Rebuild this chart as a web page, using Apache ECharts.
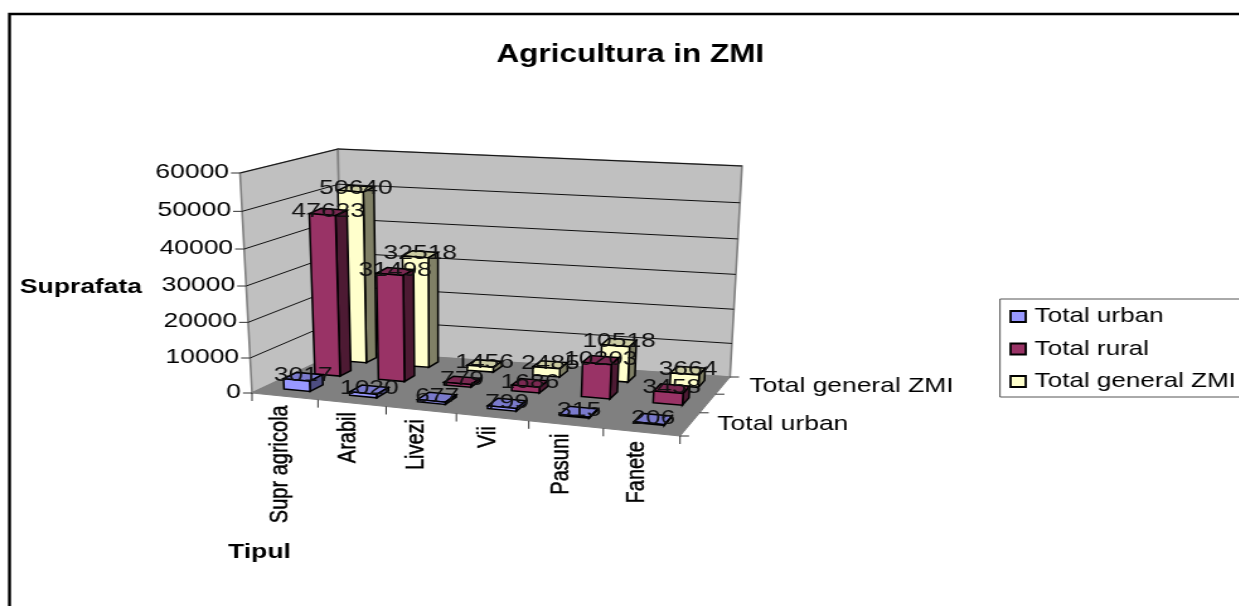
<!DOCTYPE html>
<html><head><meta charset="utf-8">
<style>
html,body{margin:0;padding:0;background:#fff;overflow:hidden;width:1239px;height:606px}
#main{position:absolute;left:0;top:0;transform-origin:0 0}
</style>
<script src="https://cdn.jsdelivr.net/npm/echarts@6/dist/echarts.min.js"></script>
</head><body><div id="main"></div>
<script>
const categories = ['Supr agricola','Arabil','Livezi','Vii','Pasuni','Fanete'];
const totalUrban = [3017,1020,677,799,315,206];
const totalRural = [47623,31498,779,1686,10203,3458];
const totalGeneral = [50640,32518,1456,2485,10518,3664];
const valueTicks = [0,10000,20000,30000,40000,50000,60000];
const seriesNames = ['Total urban','Total rural','Total general ZMI'];
const depthLabels = ['Total urban','','Total general ZMI'];

// The reference is a horizontally stretched picture: the whole canvas is stretched the same way.
const SX = 1.26, W = 1239, H = 606;
const FONT = '"Liberation Sans", Arial, sans-serif';
const el = document.getElementById('main');
el.style.width = Math.round(W / SX) + 'px';
el.style.height = H + 'px';
el.style.transform = 'scaleX(' + SX + ')';

// projection corners, in page pixels: [front-left, front-right, back-right, back-left]
const floorQuad = [[252,393],[680,436],[730,377],[342,351]];
const topQuad = [[240,173],[695,207],[742,166],[338,149]];
const BAR_HEIGHT = 202;
function quadMap(q){
  return (u,v)=>{
    const uu=u-0.09*u*(1-u), vv=Math.pow(v,0.85);
    const fx=q[0][0]+(q[1][0]-q[0][0])*uu, fy=q[0][1]+(q[1][1]-q[0][1])*uu;
    const bx=q[3][0]+(q[2][0]-q[3][0])*uu, by=q[3][1]+(q[2][1]-q[3][1])*uu;
    return [fx+(bx-fx)*vv, fy+(by-fy)*vv];
  };
}
const mapFloor = quadMap(floorQuad), mapTop = quadMap(topQuad);
// walls: u,v on the floor (0..1), t = share of the value axis (0..1); result in canvas pixels
function P(u,v,t){
  const tt=t-0.055*t*(1-t);
  const a=mapFloor(u,v), b=mapTop(u,v);
  return [(a[0]+(b[0]-a[0])*tt)/SX, a[1]+(b[1]-a[1])*tt];
}
// bars: same floor, same lean, constant height scale
function B(u,v,t){
  const a=mapFloor(u,v), b=mapTop(u,v);
  return [(a[0]+(b[0]-a[0])*t)/SX, a[1]-BAR_HEIGHT*t];
}

const nCat = categories.length, nDepth = seriesNames.length;
function axisShare(params, api, catPos, value){
  const cs = params.coordSys;
  const pt = api.coord([catPos, value]);
  return {u:(pt[0]-cs.x)/cs.width, t:(cs.y+cs.height-pt[1])/cs.height};
}
const faces = [
  {front:'#9999FF',side:'#4D4D80',top:'#7A7ACC'},
  {front:'#993366',side:'#4D1A33',top:'#7A2952'},
  {front:'#FFFFCC',side:'#808066',top:'#CCCCA3'}
];
const LW = 1.5;
function poly(points, fill, stroke, lw){
  return {type:'polygon',shape:{points},style:{fill,stroke:stroke||'#000',lineWidth:lw==null?LW:lw}};
}
function line(a,b,stroke,lw){
  return {type:'line',shape:{x1:a[0],y1:a[1],x2:b[0],y2:b[1]},style:{stroke:stroke||'#000',lineWidth:lw||1}};
}
function txt(text,x,y,align,extra,styleExtra){
  return Object.assign({type:'text',x:x,y:y,style:Object.assign({text,fontFamily:FONT,fontSize:21,fill:'#000',align,verticalAlign:'middle'},styleExtra||{})},extra||{});
}
function barRender(d){
  return function(params, api){
    const {u,t} = axisShare(params, api, api.value(0), api.value(1));
    const half = 0.2/nCat;
    const u0=u-half,u1=u+half,v0=(d+.3)/nDepth,v1=(d+.7)/nDepth;
    const f=faces[d];
    return {type:'group',children:[
      poly([B(u0,v0,t),B(u1,v0,t),B(u1,v1,t),B(u0,v1,t)],f.top),
      poly([B(u1,v0,0),B(u1,v1,0),B(u1,v1,t),B(u1,v0,t)],f.side),
      poly([B(u0,v0,0),B(u1,v0,0),B(u1,v0,t),B(u0,v0,t)],f.front)
    ]};
  };
}
function labelRender(params, api){
  const {u,t} = axisShare(params, api, api.value(0), api.value(1));
  const d = api.value(2);
  const p = B(u,(d+.5)/nDepth,t);
  return txt(String(api.value(1)),p[0],p[1]-1,'center',null,{fill:'#111'});
}
function frameRender(params, api){
  const ch=[];
  const GR='#808080';
  ch.push(poly([P(0,0,0),P(0,0,1),P(0,1,1),P(0,1,0)],'#C0C0C0',GR,1.6));
  ch.push(poly([P(0,1,0),P(0,1,1),P(1,1,1),P(1,1,0)],'#C0C0C0',GR,1.6));
  ch.push(poly([P(0,0,0),P(1,0,0),P(1,1,0),P(0,1,0)],'#808080',GR,1));
  valueTicks.forEach(val=>{
    const t=axisShare(params,api,0,val).t;
    const a=P(0,0,t),b=P(0,1,t),c=P(1,1,t);
    if(val>0){ch.push(line(a,b,'#111'));ch.push(line(b,c,'#111'));}
    ch.push(line(a,[a[0]-9/SX,a[1]],'#333'));
    ch.push(txt(String(val),a[0]-11/SX,a[1]-1,'right'));
  });
  for(let i=0;i<=nCat;i++){
    const a=P(i/nCat,0,0);
    ch.push(line(a,[a[0],a[1]+8],'#333'));
  }
  for(let j=0;j<=nDepth;j++){
    const a=P(1,j/nDepth,0);
    ch.push(line(a,[a[0]+9/SX,a[1]],'#333'));
  }
  categories.forEach((name,i)=>{
    const a=P(axisShare(params,api,i,0).u,0,0);
    ch.push(txt(name,a[0]-4/SX,a[1]+9,'right',{rotation:Math.PI/2},{fontSize:20,stroke:'#000',lineWidth:.4}));
  });
  depthLabels.forEach((name,j)=>{
    if(!name)return;
    const a=P(1,(j+.5)/nDepth,0);
    ch.push(txt(name,a[0]+26.5/SX,a[1]+1,'left'));
  });
  return {type:'group',children:ch};
}
const rows = a => a.map((v,i)=>[i,v]);
const rowValues = [totalUrban,totalRural,totalGeneral];
const labelRows = [];
[2,1,0].forEach(d=>rowValues[d].forEach((v,i)=>labelRows.push([i,v,d])));

const chart = echarts.init(el,null,{renderer:'canvas'});
chart.setOption({
  animation:false,
  backgroundColor:'#fff',
  title:{text:'Agricultura in ZMI',left:624/SX,top:38,textAlign:'center',
    textStyle:{fontFamily:FONT,fontWeight:'bold',fontSize:25,color:'#000'}},
  legend:{
    show:true,orient:'vertical',left:1000/SX,top:299,selectedMode:false,
    data:seriesNames.map((n,d)=>({name:n,icon:'rect',itemStyle:{color:faces[d].front,borderColor:'#000',borderWidth:1.8}})),
    itemWidth:12,itemHeight:11,itemGap:11.5,padding:[7,40,5,7.5],
    backgroundColor:'#fff',borderColor:'#555',borderWidth:1,
    textStyle:{fontFamily:FONT,fontSize:20.7,color:'#000',padding:[0,0,0,2]}
  },
  grid:{left:0,top:0,width:600,height:300,containLabel:false},
  xAxis:{type:'category',data:categories,show:false},
  yAxis:{type:'value',min:0,max:60000,interval:10000,show:false},
  graphic:[
    {type:'rect',shape:{x:9.5/SX,y:14,width:1300/SX,height:700},style:{fill:'none',stroke:'#000',lineWidth:2.4},z:0,silent:true},
    {type:'text',x:81/SX,y:287,style:{text:'Suprafata',fontFamily:FONT,fontWeight:'bold',fontSize:21,fill:'#000',align:'center',verticalAlign:'middle'},z:5},
    {type:'text',x:259.5/SX,y:552,style:{text:'Tipul',fontFamily:FONT,fontWeight:'bold',fontSize:21,fill:'#000',align:'center',verticalAlign:'middle'},z:5}
  ],
  series:[
    {name:'frame',type:'custom',z:1,silent:true,data:[[0,0]],renderItem:frameRender,encode:{x:0,y:1}},
    {name:seriesNames[2],type:'custom',z:2,data:rows(totalGeneral),renderItem:barRender(2),encode:{x:0,y:1},itemStyle:{color:faces[2].front}},
    {name:seriesNames[1],type:'custom',z:3,data:rows(totalRural),renderItem:barRender(1),encode:{x:0,y:1},itemStyle:{color:faces[1].front}},
    {name:seriesNames[0],type:'custom',z:4,data:rows(totalUrban),renderItem:barRender(0),encode:{x:0,y:1},itemStyle:{color:faces[0].front}},
    {name:'labels',type:'custom',z:6,silent:true,data:labelRows,renderItem:labelRender,encode:{x:0,y:1}}
  ]
});
</script>
</body></html>
